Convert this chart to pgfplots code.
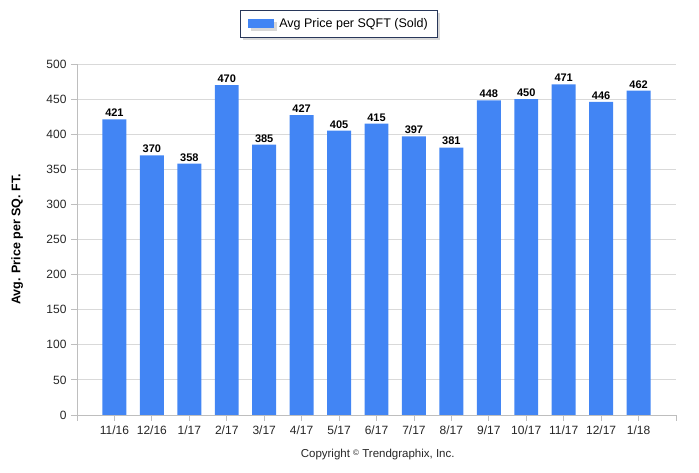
\documentclass[border=0pt]{standalone}
\usepackage{pgfplots}
\pgfplotsset{compat=1.18}
\usepackage{fontspec}
\setmainfont{Liberation Sans}
\usetikzlibrary{shadows}
\definecolor{barblue}{RGB}{66,133,244}
\definecolor{gridgray}{RGB}{217,217,217}
\definecolor{axisgray}{RGB}{190,190,190}
\definecolor{legborder}{RGB}{40,55,90}
\begin{document}
\begin{tikzpicture}[x=1pt,y=1pt]
\useasboundingbox (0,0) rectangle (699,473);
\begin{axis}[
  at={(77pt,58pt)}, anchor=south west,
  scale only axis, width=599pt, height=351pt,
  ybar, bar width=0.64,
  xmin=-1, xmax=15, ymin=0, ymax=500,
  xtick={-1,0,...,15},
  xticklabels={,11/16,12/16,1/17,2/17,3/17,4/17,5/17,6/17,7/17,8/17,9/17,10/17,11/17,12/17,1/18,},
  ytick={0,50,...,500},
  ymajorgrids, grid style={gridgray, line width=0.8pt},
  axis x line*=bottom, axis y line*=left,
  axis line style={axisgray, line width=0.8pt},
  tick style={axisgray, line width=0.8pt},
  major tick length=6pt,
  tick align=outside,
  /pgf/number format/assume math mode=true,
  tick label style={font=\fontsize{12}{14}\selectfont, text=black!85},
  xticklabel style={yshift=-1pt},
  yticklabel style={xshift=-1pt},
  ylabel={Avg. Price per SQ. FT.},
  ylabel style={font=\bfseries\fontsize{12.5}{14}\selectfont, at={(axis description cs:-0.1,0.5)}, anchor=center},
  nodes near coords,
  every node near coord/.append style={font=\bfseries\fontsize{11}{13}\selectfont, text=black, yshift=-1pt},
  legend style={at={(axis description cs:0.4375,1.114)}, anchor=center,
    draw=legborder, line width=0.8pt, fill=white,
    drop shadow={shadow xshift=2.5pt, shadow yshift=-2.5pt, fill=black!30},
    font=\fontsize{12.5}{14}\selectfont,
    inner xsep=8pt, inner ysep=6.5pt},
  legend image code/.code={\fill[barblue] (0pt,-4.5pt) rectangle (26pt,4.5pt); \path (29pt,0pt);},
  clip=false,
]
\addplot[fill=barblue, draw=none] coordinates {
 (0,421) (1,370) (2,358) (3,470) (4,385) (5,427) (6,405) (7,415)
 (8,397) (9,381) (10,448) (11,450) (12,471) (13,446) (14,462)};
\addlegendentry{Avg Price per SQFT (Sold)}
\node[font=\fontsize{11.5}{13}\selectfont, text=black!85] at (axis description cs:0.502,-0.114) {Copyright \raisebox{0.35ex}{\fontsize{8}{9}\selectfont\textcopyright} Trendgraphix, Inc.};
\end{axis}
\end{tikzpicture}
\end{document}
